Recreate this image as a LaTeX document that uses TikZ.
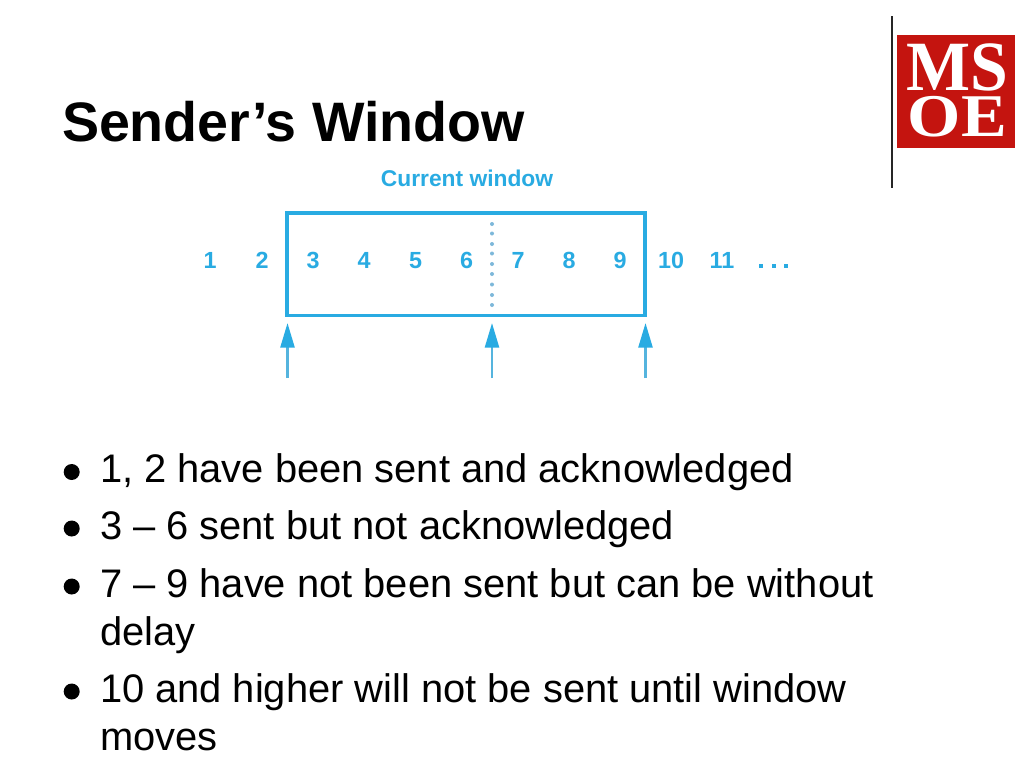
\documentclass[tikz,border=0pt]{standalone}
\usepackage{fontspec}
\setmainfont{Liberation Sans}
\newfontfamily\logofont{Liberation Serif}
\definecolor{winblue}{HTML}{29ABE2}
\definecolor{shaftblue}{HTML}{55B4DE}
\definecolor{logored}{HTML}{C4140F}
\definecolor{dotblue}{HTML}{7DB8DA}
\usetikzlibrary{arrows.meta}
\tikzset{
  pagetext/.style={inner sep=0pt,outer sep=0pt,anchor=base west,text=black},
  titletext/.style={pagetext,font=\fontsize{41.7}{48}\selectfont\bfseries},
  bodytext/.style={pagetext,font=\fontsize{29.9}{36}\selectfont},
  numlabel/.style={inner sep=0pt,anchor=base,text=winblue,font=\fontsize{17.5}{20}\selectfont\bfseries},
  logotext/.style={inner sep=0pt,anchor=base,text=white,font=\logofont\bfseries},
  bulletdot/.style={circle,fill=black,inner sep=0pt,minimum size=12pt},
  marker/.style={draw=shaftblue,line width=1.9pt,-{Triangle[length=18.5pt,width=10.5pt,color=winblue,fill=winblue]}},
  dotcell/.style={circle,fill=dotblue,inner sep=0pt,minimum size=3pt}
}
\begin{document}
\begin{tikzpicture}[x=0.75pt,y=-0.75pt]
\useasboundingbox (0,0) rectangle (1024,768);
\fill[white] (0,0) rectangle (1024,768);
% divider and logo
\coordinate (divtop) at (892,16);
\coordinate (divbot) at (892,188);
\draw[line width=0.9pt,color=black!85] (divtop) -- (divbot);
\fill[logored] (897,35) rectangle (1015,148);
\node[logotext,font=\logofont\bfseries\fontsize{53}{53}\selectfont,xscale=0.96] (logoMS) at (957.5,90.5) {MS};
\node[logotext,font=\logofont\bfseries\fontsize{45.5}{46}\selectfont,xscale=1.13] (logoOE) at (957.5,136) {OE};
% title
\node[titletext] (title) at (62,141.8) {Sender’s Window};
\node[inner sep=0pt,anchor=base,text=winblue,font=\fontsize{17.1}{20}\selectfont\bfseries] (cw) at (467,186) {Current window};
% window
\node[draw=winblue,line width=2.5pt,outer sep=0pt,inner sep=0pt,minimum width=268.5pt,minimum height=76.9pt] (win) at (466,264.25) {};
% numbers
\foreach \n/\x in {1/210,2/262,3/313,4/364,5/415.5,6/466.5,7/518,8/569,9/620,10/671,11/722}
  \node[numlabel] (n\n) at (\x,268) {\n};
\foreach \i/\x in {1/761,2/773.5,3/786}
  \node[rectangle,fill=winblue,inner sep=0pt,minimum size=3pt] (e\i) at (\x,266) {};
% dotted divider
\foreach \i/\y in {1/224,2/233.5,3/244,4/253.5,5/264,6/274,7/284.5,8/295,9/305}
  \node[dotcell] (d\i) at (492,\y) {};
% arrows
\coordinate (a1b) at (287.5,378); \coordinate (a1t) at (287.5,323);
\coordinate (a2b) at (492,378); \coordinate (a2t) at (492,323);
\coordinate (a3b) at (645.5,378); \coordinate (a3t) at (645.5,323);
\draw[marker] (a1b) -- (a1t);
\draw[marker] (a2b) -- (a2t);
\draw[marker] (a3b) -- (a3t);
% bullets
\node[bulletdot] (b1) at (71.7,472) {};
\node[bulletdot] (b2) at (71.7,528.5) {};
\node[bulletdot] (b3) at (71.7,586.5) {};
\node[bulletdot] (b4) at (71.7,691.5) {};
\node[bodytext] (t1) at (100,482) {1, 2 have been sent and acknowledged};
\node[bodytext] (t2) at (100,539) {3 – 6 sent but not acknowledged};
\node[bodytext] (t3) at (100,597) {7 – 9 have not been sent but can be without};
\node[bodytext] (t3b) at (100,645) {delay};
\node[bodytext] (t4) at (100,702) {10 and higher will not be sent until window};
\node[bodytext] (t4b) at (100,750) {moves};
\end{tikzpicture}
\end{document}
